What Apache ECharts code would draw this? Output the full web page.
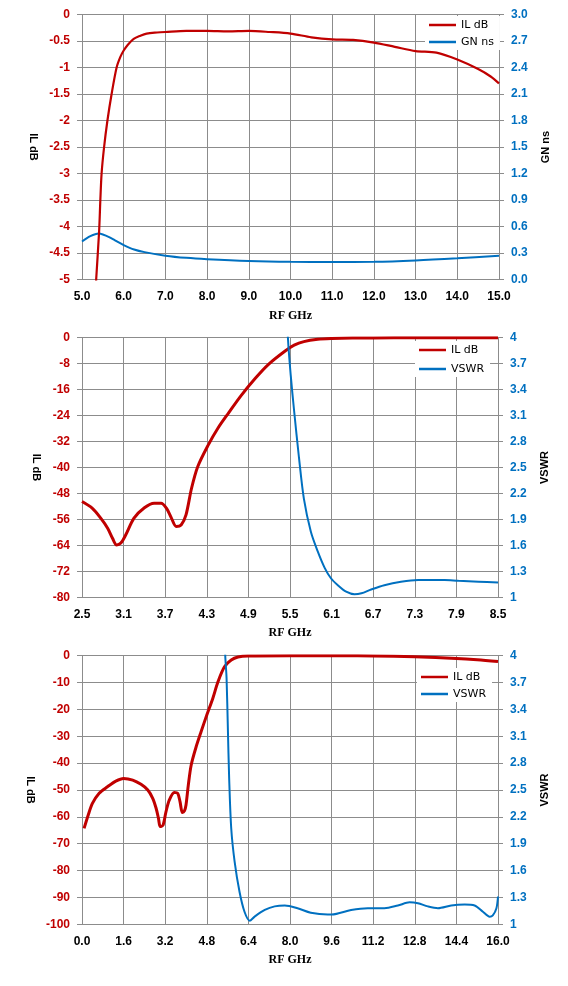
<!DOCTYPE html>
<html><head><meta charset="utf-8">
<script src="https://cdn.jsdelivr.net/npm/echarts@6/dist/echarts.min.js"></script>
<style>html,body{margin:0;padding:0;background:#fff}#c{width:568px;height:986px}</style>
</head><body><div id="c"></div>
<script>
// Panel 1: 5-15 GHz, IL dB and group delay (GN ns)
const il1Freq = [5.30,5.34,5.41,5.44,5.47,5.53,5.61,5.71,5.83,5.92,6.0,6.1,6.24,6.4,6.55,6.8,7.0,7.5,8.0,8.5,9.0,9.5,10.0,10.5,11.0,11.5,12.0,12.5,13.0,13.5,14.0,14.5,14.8,15.0];
const il1Db   = [-5.6,-5.0,-4.1,-3.5,-3.0,-2.5,-2.0,-1.5,-1.0,-0.8,-0.68,-0.57,-0.46,-0.40,-0.36,-0.34,-0.33,-0.31,-0.31,-0.32,-0.31,-0.33,-0.36,-0.43,-0.47,-0.48,-0.53,-0.61,-0.69,-0.72,-0.85,-1.03,-1.17,-1.30];
const gn1Freq = [5.0,5.2,5.4,5.5,5.65,5.8,6.0,6.25,6.5,7.0,7.5,8.0,9.0,10.0,11.0,12.0,13.0,14.0,15.0];
const gn1Ns   = [0.43,0.49,0.52,0.51,0.48,0.44,0.39,0.34,0.31,0.27,0.245,0.23,0.21,0.20,0.198,0.20,0.215,0.24,0.27];

// Panel 2: 2.5-8.5 GHz, IL dB and VSWR
const il2Freq = [2.5,2.65,2.77,2.87,2.94,3.0,3.06,3.13,3.25,3.4,3.54,3.64,3.72,3.79,3.86,3.93,4.0,4.08,4.17,4.32,4.46,4.61,4.8,5.0,5.19,5.43,5.56,5.7,5.9,6.1,6.4,7.0,8.0,8.5];
const il2Db   = [-50.5,-52.6,-55.6,-58.7,-61.8,-63.9,-63.3,-60.8,-55.6,-52.4,-51.0,-51.0,-52.6,-55.6,-58.2,-57.7,-54.6,-46.4,-39.7,-33.1,-27.9,-23.3,-17.7,-12.5,-8.2,-4.1,-2.3,-1.2,-0.5,-0.25,-0.1,-0.05,-0.05,-0.05];
const vs2Freq = [5.44,5.47,5.51,5.56,5.63,5.7,5.8,5.9,6.0,6.09,6.19,6.31,6.43,6.53,6.67,6.86,7.1,7.35,7.73,7.93,8.22,8.5];
const vs2Val  = [4.6,4.0,3.57,3.15,2.61,2.14,1.76,1.53,1.34,1.22,1.14,1.065,1.035,1.046,1.09,1.14,1.18,1.20,1.20,1.19,1.18,1.17];

// Panel 3: 0-16 GHz, IL dB and VSWR
const il3Freq = [0.08,0.24,0.4,0.66,0.98,1.3,1.6,1.95,2.27,2.53,2.72,2.85,2.94,3.01,3.12,3.23,3.36,3.55,3.68,3.77,3.86,3.94,4.0,4.09,4.2,4.39,4.58,4.8,5.03,5.23,5.48,5.74,6.0,6.38,8.0,10.0,11.2,12.8,14.4,15.2,16.0];
const il3Db   = [-64.3,-59.3,-55,-51.2,-48.8,-46.7,-45.7,-46.3,-47.9,-50,-53.1,-56.8,-60.5,-63.6,-63,-58.1,-53.7,-50.9,-51.2,-54.3,-58.4,-57.8,-55.6,-48.1,-40.7,-33.9,-28.3,-22.1,-15.9,-9.7,-4.1,-1.6,-0.5,-0.1,0,0,-0.1,-0.4,-1.0,-1.5,-2.2];
const vs3Freq = [5.49,5.51,5.56,5.61,5.66,5.74,5.87,6.06,6.25,6.45,6.64,7.03,7.41,7.8,8.29,8.8,9.45,9.6,10.35,10.99,11.63,12.15,12.6,12.92,13.3,13.69,14.2,14.72,15.1,15.42,15.68,15.8,15.94,16.0];
const vs3Val  = [4.3,4.0,3.75,3.19,2.63,2.07,1.70,1.36,1.14,1.04,1.086,1.16,1.20,1.21,1.18,1.13,1.11,1.11,1.16,1.18,1.18,1.21,1.245,1.235,1.20,1.18,1.21,1.22,1.21,1.14,1.085,1.10,1.18,1.31];

const seriesNames = ['IL dB','GN ns','VSWR'];
const xTitle = 'RF GHz';

const RED = '#C00000', BLUE = '#0070C0', GRID = '#8C8C8C';
const zip = (a, b) => a.map((v, i) => [v, b[i]]);
const tickFont = {fontFamily: 'Liberation Sans', fontWeight: 'bold', fontSize: 12};

function xAx(gi, min, max, interval, fmt) {
  return {
    type: 'value', gridIndex: gi, min, max, interval,
    name: xTitle, nameLocation: 'middle', nameGap: 30,
    nameTextStyle: {fontFamily: 'Liberation Serif', fontWeight: 'bold', fontSize: 12, color: '#000'},
    axisLine: {show: true, lineStyle: {color: GRID}},
    axisTick: {show: true, length: 5, lineStyle: {color: GRID}},
    axisLabel: Object.assign({color: '#000', margin: 11, formatter: fmt}, tickFont),
    splitLine: {show: true, lineStyle: {color: GRID, width: 1}}
  };
}
function yAx(gi, pos, min, max, interval, name, color, fmt) {
  return {
    type: 'value', gridIndex: gi, position: pos, min, max, interval,
    name, nameLocation: 'middle', nameGap: pos === 'left' ? 38 : 41, nameRotate: pos === 'left' ? -90 : 90,
    nameTextStyle: {fontFamily: 'Liberation Sans', fontWeight: 'bold', fontSize: 11, color: '#000'},
    axisLine: {show: true, lineStyle: {color: GRID}},
    axisTick: {show: true, length: 5, lineStyle: {color: GRID}},
    axisLabel: Object.assign({color, margin: 12, formatter: fmt}, tickFont),
    splitLine: {show: pos === 'left', lineStyle: {color: GRID, width: 1}}
  };
}
function line(name, xi, yi, data, color, w) {
  return {name, type: 'line', xAxisIndex: xi, yAxisIndex: yi, data, symbol: 'none',
    smooth: 0.3, clip: true,
    lineStyle: {color, width: w}, itemStyle: {color}};
}
function legend(left, top, names, gap) {
  return {left, top, orient: 'vertical', data: names, icon: 'rect', itemWidth: 27, itemHeight: 2.5, itemGap: gap,
    backgroundColor: '#fff', padding: [3, 6, 2, 4],
    textStyle: {fontFamily: 'DejaVu Sans', fontSize: 11, lineHeight: 12, color: '#000'}};
}

const f1 = v => v.toFixed(1);
const fN = v => String(+v.toFixed(1));

const chart = echarts.init(document.getElementById('c'), null, {renderer: 'canvas'});
chart.setOption({
  animation: false,
  backgroundColor: '#fff',
  grid: [
    {left: 82, top: 14.5, width: 417, height: 265},
    {left: 82, top: 337.7, width: 416, height: 259.6},
    {left: 82, top: 655.7, width: 416, height: 268.6}
  ],
  xAxis: [
    xAx(0, 5, 15, 1, f1),
    xAx(1, 2.5, 8.5, 0.6, f1),
    xAx(2, 0, 16, 1.6, f1)
  ],
  yAxis: [
    yAx(0, 'left', -5, 0, 0.5, 'IL dB', RED, fN),
    yAx(0, 'right', 0, 3, 0.3, 'GN ns', BLUE, f1),
    yAx(1, 'left', -80, 0, 8, 'IL dB', RED, fN),
    yAx(1, 'right', 1, 4, 0.3, 'VSWR', BLUE, fN),
    yAx(2, 'left', -100, 0, 10, 'IL dB', RED, fN),
    yAx(2, 'right', 1, 4, 0.3, 'VSWR', BLUE, fN)
  ],
  legend: [
    legend(425, 16, [seriesNames[0], seriesNames[1]], 5),
    legend(415, 341, [seriesNames[0], seriesNames[2]], 7),
    legend(417, 668, [seriesNames[0], seriesNames[2]], 5)
  ],
  series: [
    line(seriesNames[1], 0, 1, zip(gn1Freq, gn1Ns), BLUE, 2),
    line(seriesNames[0], 0, 0, zip(il1Freq, il1Db), RED, 2.2),
    line(seriesNames[0], 1, 2, zip(il2Freq, il2Db), RED, 3),
    line(seriesNames[2], 1, 3, zip(vs2Freq, vs2Val), BLUE, 2),
    line(seriesNames[0], 2, 4, zip(il3Freq, il3Db), RED, 3),
    line(seriesNames[2], 2, 5, zip(vs3Freq, vs3Val), BLUE, 2)
  ]
});
</script></body></html>
